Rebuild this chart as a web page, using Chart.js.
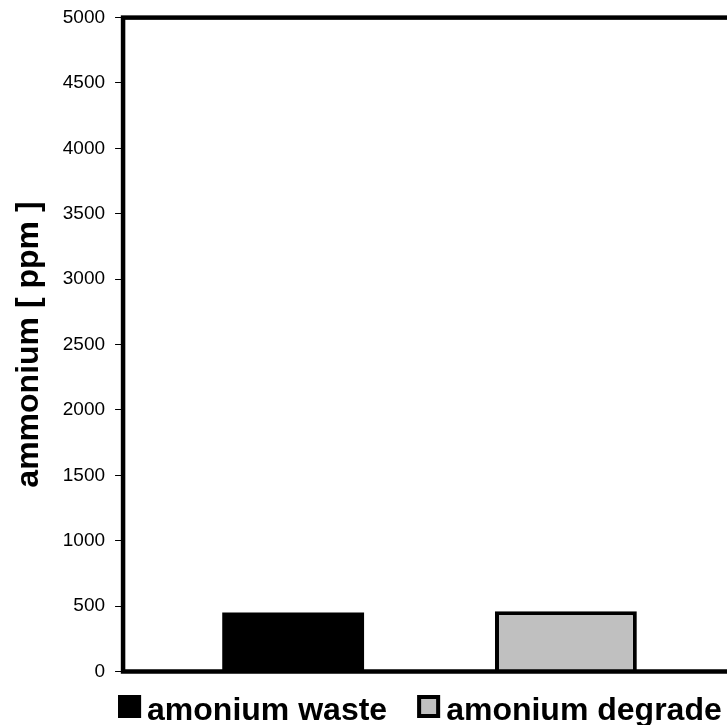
<!DOCTYPE html>
<html>
<head>
<meta charset="utf-8">
<script src="https://cdn.jsdelivr.net/npm/chart.js@4"></script>
<style>
  html, body { margin: 0; padding: 0; background: #ffffff; overflow: hidden; }
  #wrap { position: relative; width: 745px; height: 725px; }
</style>
</head>
<body>
<div id="wrap"><canvas id="chart"></canvas></div>
<script>
// One sample group, two measurements of ammonium (ppm)
const categories = [''];
const seriesNames = ['amonium waste', 'amonium degrade'];
const wasteValues = [452];
const degradeValues = [460];
const seriesColors = ['#000000', '#c0c0c0'];
const seriesBorders = [0, 4];
const axisTitle = 'ammonium [ ppm ]';
const yMin = 0;
const yMax = 5000;
const yStep = 500;

const FONT = 'Arial, "Liberation Sans", sans-serif';

// Heavy frame around the plotting area
const framePlugin = {
  id: 'frame',
  afterDatasetsDraw(chart) {
    const { ctx, chartArea: a } = chart;
    ctx.save();
    ctx.strokeStyle = '#000000';
    ctx.lineWidth = 4.5;
    ctx.strokeRect(a.left, a.top, a.right - a.left, a.bottom - a.top);
    ctx.restore();
  }
};

// Legend row under the plot: filled square with outline, then the series name
const legendRowPlugin = {
  id: 'legendRow',
  afterDraw(chart) {
    const { ctx, chartArea: a } = chart;
    const box = 23;
    const textGap = 6;
    const itemGap = 30;
    const baseline = a.bottom + 48.5;
    let x = a.left - 5;
    ctx.save();
    ctx.font = 'bold 32px ' + FONT;
    ctx.textBaseline = 'alphabetic';
    ctx.textAlign = 'left';
    chart.data.datasets.forEach(ds => {
      const top = a.bottom + 23.5;
      ctx.fillStyle = ds.backgroundColor;
      ctx.fillRect(x, top, box, box);
      ctx.strokeStyle = '#000000';
      ctx.lineWidth = 4;
      ctx.strokeRect(x + 2, top + 2, box - 4, box - 4);
      ctx.fillStyle = '#000000';
      const tx = x + box + textGap;
      ctx.fillText(ds.label, tx, baseline);
      x = tx + ctx.measureText(ds.label).width + itemGap;
    });
    ctx.restore();
  }
};

new Chart(document.getElementById('chart'), {
  type: 'bar',
  data: {
    labels: categories,
    datasets: [
      {
        label: seriesNames[0],
        data: wasteValues,
        backgroundColor: seriesColors[0],
        borderColor: '#000000',
        borderWidth: seriesBorders[0]
      },
      {
        label: seriesNames[1],
        data: degradeValues,
        backgroundColor: seriesColors[1],
        borderColor: '#000000',
        borderWidth: seriesBorders[1]
      }
    ]
  },
  options: {
    responsive: true,
    maintainAspectRatio: false,
    animation: false,
    devicePixelRatio: 1,
    categoryPercentage: 0.89,
    barPercentage: 0.52,
    layout: { padding: { top: 15, right: 9, bottom: 53.5, left: 0 } },
    plugins: {
      legend: { display: false },
      tooltip: { enabled: false }
    },
    scales: {
      x: {
        display: false
      },
      y: {
        min: yMin,
        max: yMax,
        ticks: {
          stepSize: yStep,
          color: '#000000',
          padding: 10,
          font: { family: FONT, size: 19, lineHeight: 0.8 },
          callback: v => String(v)
        },
        grid: {
          drawOnChartArea: false,
          drawTicks: true,
          tickLength: 8,
          color: '#000000',
          lineWidth: 1
        },
        border: { display: false },
        title: {
          display: true,
          text: axisTitle,
          color: '#000000',
          font: { family: FONT, size: 32, weight: 'bold' },
          padding: { top: 9.8, bottom: 4.6 }
        }
      }
    }
  },
  plugins: [framePlugin, legendRowPlugin]
});
</script>
</body>
</html>
